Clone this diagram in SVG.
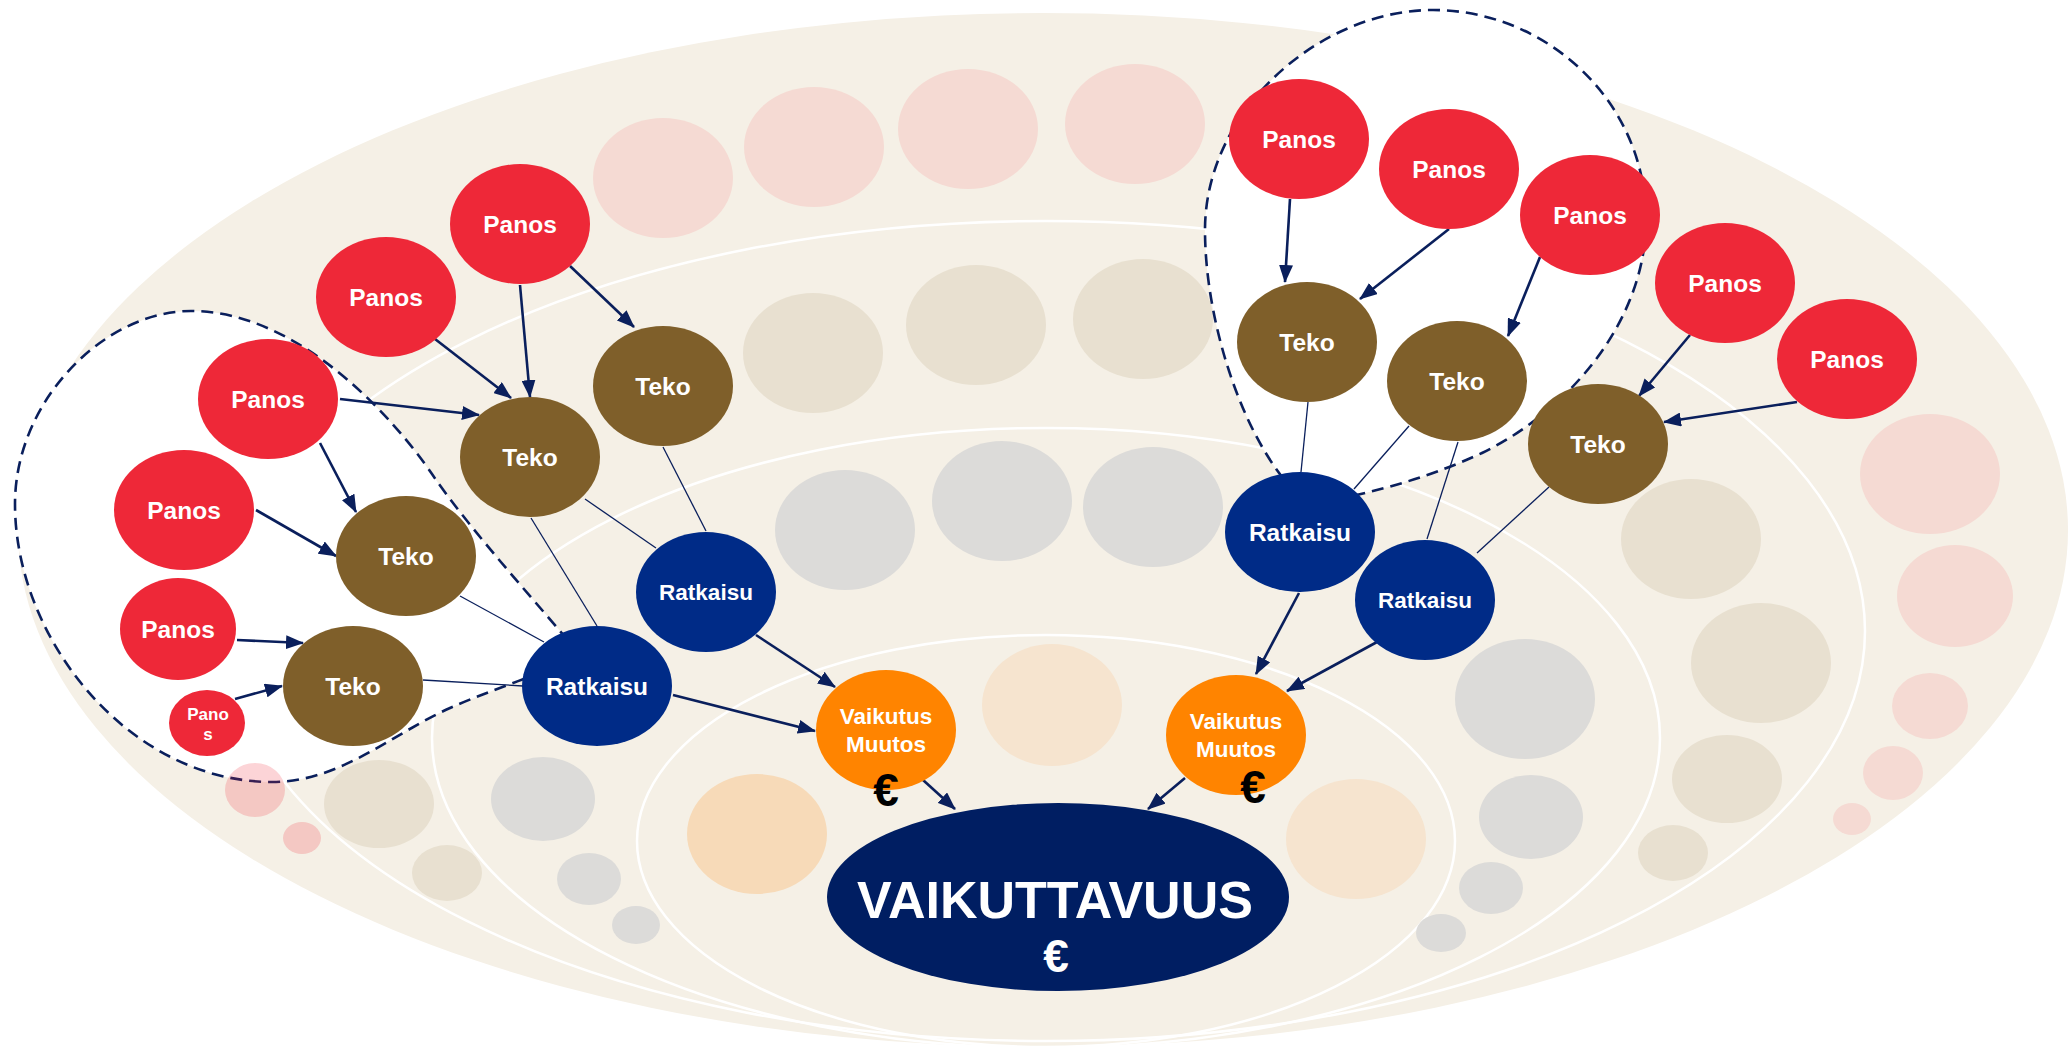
<svg xmlns="http://www.w3.org/2000/svg" width="2070" height="1047" viewBox="0 0 2070 1047">
<defs>
<style>
.t{font-family:"Liberation Sans",Arial,Helvetica,sans-serif;font-weight:bold;fill:#fff;text-anchor:middle}
.ring{fill:none;stroke:#fff;stroke-width:2.5}
.pk{fill:#F5DAD3}.tn{fill:#E8E0D0}.gy{fill:#DCDBD9}.or{fill:#F6E4CF}
.loop{fill:#fff;stroke:#0A1F5C;stroke-width:2.6;stroke-dasharray:12 7}
.arr{stroke:#0A1F5C;stroke-width:2.6;fill:none;marker-end:url(#ah)}
.thin{stroke:#0A1F5C;stroke-width:1.3;fill:none}
.panos{fill:#EE2838}.teko{fill:#7F5F2A}.ratk{fill:#002B87}.vaik{fill:#FF8400}.main{fill:#001E62}
</style>
<marker id="ah" viewBox="0 0 18 14" refX="17" refY="7" markerWidth="18" markerHeight="14" markerUnits="userSpaceOnUse" orient="auto">
<path d="M0,0 L18,7 L0,14 z" fill="#0A1F5C"/>
</marker>
</defs>

<g id="background">
<ellipse cx="1043" cy="530" rx="1025" ry="517" fill="#F5F0E6"/>
<ellipse class="ring" cx="1046" cy="631" rx="819" ry="410"/>
<ellipse class="ring" cx="1046" cy="738" rx="614" ry="310"/>
<ellipse class="ring" cx="1046" cy="841" rx="409" ry="206"/>
</g>

<g id="faint-circles">
<ellipse class="pk" cx="663" cy="178" rx="70" ry="60"/>
<ellipse class="pk" cx="814" cy="147" rx="70" ry="60"/>
<ellipse class="pk" cx="968" cy="129" rx="70" ry="60"/>
<ellipse class="pk" cx="1135" cy="124" rx="70" ry="60"/>
<ellipse class="pk" cx="1930" cy="474" rx="70" ry="60"/>
<ellipse class="pk" cx="1955" cy="596" rx="58" ry="51"/>
<ellipse class="pk" cx="1930" cy="706" rx="38" ry="33"/>
<ellipse class="pk" cx="1893" cy="773" rx="30" ry="27"/>
<ellipse class="pk" cx="1852" cy="819" rx="19" ry="16"/>
<ellipse class="tn" cx="813" cy="353" rx="70" ry="60"/>
<ellipse class="tn" cx="976" cy="325" rx="70" ry="60"/>
<ellipse class="tn" cx="1143" cy="319" rx="70" ry="60"/>
<ellipse class="tn" cx="1691" cy="539" rx="70" ry="60"/>
<ellipse class="tn" cx="1761" cy="663" rx="70" ry="60"/>
<ellipse class="tn" cx="1727" cy="779" rx="55" ry="44"/>
<ellipse class="tn" cx="1673" cy="853" rx="35" ry="28"/>
<ellipse class="tn" cx="379" cy="804" rx="55" ry="44"/>
<ellipse class="tn" cx="447" cy="873" rx="35" ry="28"/>
<ellipse class="gy" cx="845" cy="530" rx="70" ry="60"/>
<ellipse class="gy" cx="1002" cy="501" rx="70" ry="60"/>
<ellipse class="gy" cx="1153" cy="507" rx="70" ry="60"/>
<ellipse class="gy" cx="1525" cy="699" rx="70" ry="60"/>
<ellipse class="gy" cx="1531" cy="817" rx="52" ry="42"/>
<ellipse class="gy" cx="1491" cy="888" rx="32" ry="26"/>
<ellipse class="gy" cx="1441" cy="933" rx="25" ry="19"/>
<ellipse class="gy" cx="543" cy="799" rx="52" ry="42"/>
<ellipse class="gy" cx="589" cy="879" rx="32" ry="26"/>
<ellipse class="gy" cx="636" cy="925" rx="24" ry="19"/>
<ellipse cx="757" cy="834" rx="70" ry="60" fill="#F7DAB8"/>
<ellipse class="or" cx="1052" cy="705" rx="70" ry="61"/>
<ellipse class="or" cx="1356" cy="839" rx="70" ry="60"/>
</g>

<g id="groups">
<path class="loop" d="M580,655 C540,606 470,530 432,474 C395,420 300,311 191,311 C105,311 15,400 15,504 C15,640 130,782 272,782 C340,782 390,735 450,708 C490,690 540,675 580,655 Z"/>
<path class="loop" d="M1310,505 C1250,460 1205,330 1205,230 C1205,110 1320,10 1433,10 C1545,10 1646,100 1646,220 C1646,320 1570,410 1482,453 C1420,482 1360,495 1310,505 Z"/>
<ellipse cx="255" cy="790" rx="30" ry="27" fill="#EE2838" opacity="0.2"/>
<ellipse cx="302" cy="838" rx="19" ry="16" fill="#EE2838" opacity="0.2"/>
</g>

<g id="connectors">
<line class="arr" x1="520" y1="285" x2="530" y2="397"/>
<line class="arr" x1="570" y1="266" x2="634" y2="327"/>
<line class="arr" x1="435" y1="339" x2="511" y2="398"/>
<line class="arr" x1="340" y1="399" x2="479" y2="415"/>
<line class="arr" x1="320" y1="443" x2="356" y2="512"/>
<line class="arr" x1="256" y1="510" x2="336" y2="556"/>
<line class="arr" x1="237" y1="640" x2="303" y2="643"/>
<line class="arr" x1="235" y1="699" x2="282" y2="686"/>
<line class="arr" x1="673" y1="695" x2="815" y2="731"/>
<line class="arr" x1="756" y1="635" x2="835" y2="687"/>
<line class="arr" x1="923" y1="780" x2="955" y2="809"/>
<line class="arr" x1="1290" y1="199" x2="1285" y2="282"/>
<line class="arr" x1="1449" y1="229" x2="1360" y2="299"/>
<line class="arr" x1="1540" y1="257" x2="1508" y2="336"/>
<line class="arr" x1="1690" y1="335" x2="1639" y2="396"/>
<line class="arr" x1="1797" y1="402" x2="1664" y2="422"/>
<line class="arr" x1="1299" y1="593" x2="1256" y2="674"/>
<line class="arr" x1="1377" y1="642" x2="1287" y2="691"/>
<line class="arr" x1="1185" y1="778" x2="1148" y2="809"/>
<line class="thin" x1="663" y1="447" x2="706" y2="531"/>
<line class="thin" x1="585" y1="499" x2="656" y2="548"/>
<line class="thin" x1="531" y1="518" x2="597" y2="626"/>
<line class="thin" x1="460" y1="596" x2="544" y2="642"/>
<line class="thin" x1="423" y1="680" x2="523" y2="686"/>
<line class="thin" x1="1308" y1="402" x2="1301" y2="472"/>
<line class="thin" x1="1409" y1="426" x2="1354" y2="489"/>
<line class="thin" x1="1458" y1="442" x2="1427" y2="539"/>
<line class="thin" x1="1549" y1="487" x2="1477" y2="553"/>
</g>

<g id="panos-a"><ellipse class="panos" cx="520" cy="224" rx="70" ry="60"/><text class="t" x="520" y="233" font-size="24.5">Panos</text></g>
<g id="panos-b"><ellipse class="panos" cx="386" cy="297" rx="70" ry="60"/><text class="t" x="386" y="306" font-size="24.5">Panos</text></g>
<g id="panos-c"><ellipse class="panos" cx="268" cy="399" rx="70" ry="60"/><text class="t" x="268" y="408" font-size="24.5">Panos</text></g>
<g id="panos-d"><ellipse class="panos" cx="184" cy="510" rx="70" ry="60"/><text class="t" x="184" y="519" font-size="24.5">Panos</text></g>
<g id="panos-e"><ellipse class="panos" cx="178" cy="629" rx="58" ry="51"/><text class="t" x="178" y="638" font-size="24.5">Panos</text></g>
<g id="panos-f"><ellipse class="panos" cx="207" cy="723" rx="38" ry="33"/><text class="t" x="208" y="720" font-size="17">Pano</text><text class="t" x="208" y="740" font-size="17">s</text></g>

<g id="teko-1"><ellipse class="teko" cx="663" cy="386" rx="70" ry="60"/><text class="t" x="663" y="395" font-size="24.5">Teko</text></g>
<g id="teko-2"><ellipse class="teko" cx="530" cy="457" rx="70" ry="60"/><text class="t" x="530" y="466" font-size="24.5">Teko</text></g>
<g id="teko-3"><ellipse class="teko" cx="406" cy="556" rx="70" ry="60"/><text class="t" x="406" y="565" font-size="24.5">Teko</text></g>
<g id="teko-4"><ellipse class="teko" cx="353" cy="686" rx="70" ry="60"/><text class="t" x="353" y="695" font-size="24.5">Teko</text></g>

<g id="ratkaisu-1"><ellipse class="ratk" cx="706" cy="592" rx="70" ry="60"/><text class="t" x="706" y="600" font-size="22.5">Ratkaisu</text></g>
<g id="ratkaisu-2"><ellipse class="ratk" cx="597" cy="686" rx="75" ry="60"/><text class="t" x="597" y="695" font-size="24.5">Ratkaisu</text></g>

<g id="vaikutus-1"><ellipse class="vaik" cx="886" cy="730" rx="70" ry="60"/><text class="t" x="886" y="724" font-size="22.5">Vaikutus</text><text class="t" x="886" y="752" font-size="22.5">Muutos</text><text class="t" x="886" y="806" font-size="46" style="fill:#000">€</text></g>

<g id="panos-r1"><ellipse class="panos" cx="1299" cy="139" rx="70" ry="60"/><text class="t" x="1299" y="148" font-size="24.5">Panos</text></g>
<g id="panos-r2"><ellipse class="panos" cx="1449" cy="169" rx="70" ry="60"/><text class="t" x="1449" y="178" font-size="24.5">Panos</text></g>
<g id="panos-r3"><ellipse class="panos" cx="1590" cy="215" rx="70" ry="60"/><text class="t" x="1590" y="224" font-size="24.5">Panos</text></g>
<g id="panos-r4"><ellipse class="panos" cx="1725" cy="283" rx="70" ry="60"/><text class="t" x="1725" y="292" font-size="24.5">Panos</text></g>
<g id="panos-r5"><ellipse class="panos" cx="1847" cy="359" rx="70" ry="60"/><text class="t" x="1847" y="368" font-size="24.5">Panos</text></g>

<g id="teko-r1"><ellipse class="teko" cx="1307" cy="342" rx="70" ry="60"/><text class="t" x="1307" y="351" font-size="24.5">Teko</text></g>
<g id="teko-r2"><ellipse class="teko" cx="1457" cy="381" rx="70" ry="60"/><text class="t" x="1457" y="390" font-size="24.5">Teko</text></g>
<g id="teko-r3"><ellipse class="teko" cx="1598" cy="444" rx="70" ry="60"/><text class="t" x="1598" y="453" font-size="24.5">Teko</text></g>

<g id="ratkaisu-r1"><ellipse class="ratk" cx="1300" cy="532" rx="75" ry="60"/><text class="t" x="1300" y="541" font-size="24.5">Ratkaisu</text></g>
<g id="ratkaisu-r2"><ellipse class="ratk" cx="1425" cy="600" rx="70" ry="60"/><text class="t" x="1425" y="608" font-size="22.5">Ratkaisu</text></g>

<g id="vaikutus-2"><ellipse class="vaik" cx="1236" cy="735" rx="70" ry="60"/><text class="t" x="1236" y="729" font-size="22.5">Vaikutus</text><text class="t" x="1236" y="757" font-size="22.5">Muutos</text><text class="t" x="1253" y="803" font-size="46" style="fill:#000">€</text></g>

<g id="vaikuttavuus"><ellipse class="main" cx="1058" cy="897" rx="231" ry="94"/><text class="t" x="1055" y="918" font-size="52">VAIKUTTAVUUS</text><text class="t" x="1056" y="972" font-size="46">€</text></g>
</svg>
